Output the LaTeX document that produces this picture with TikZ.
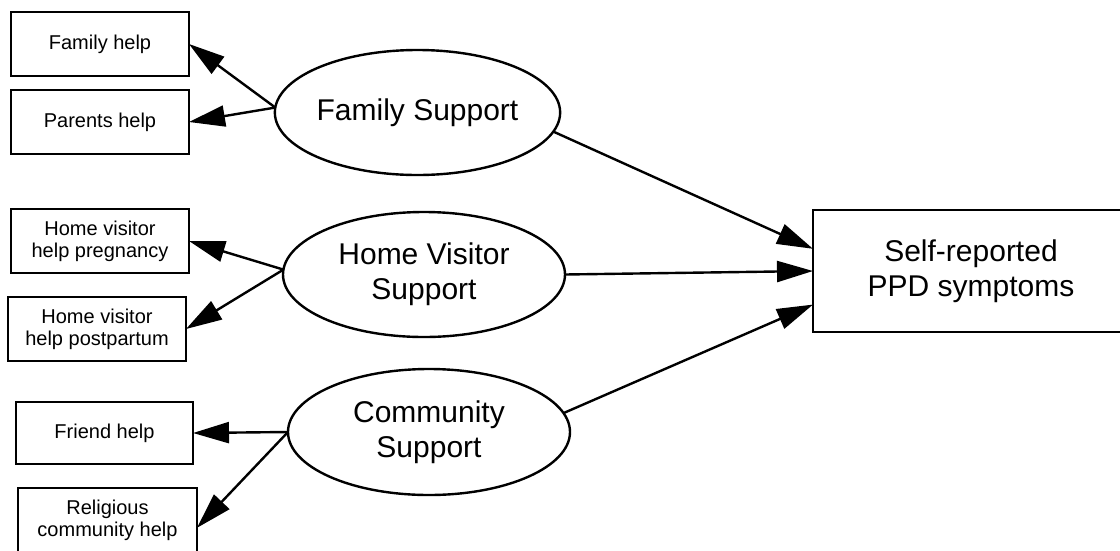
\documentclass[tikz,border=0pt]{standalone}
\usepackage{fontspec}
\setmainfont{Liberation Sans}
\usetikzlibrary{arrows.meta,shapes.geometric}
\tikzset{
  obs/.style={draw=black, line width=2.7pt, rectangle, inner sep=0pt, outer sep=0pt,
    minimum width=178pt, minimum height=64pt, align=center,
    font=\fontsize{20}{22}\selectfont},
  latent/.style={draw=black, line width=2.4pt, ellipse, inner sep=0pt, outer sep=0pt,
    minimum width=281pt, minimum height=125pt, align=center,
    font=\fontsize{30}{35}\selectfont},
  outc/.style={draw=black, line width=2.7pt, rectangle, inner sep=0pt, outer sep=0pt,
    minimum width=316pt, minimum height=122pt, align=center,
    font=\fontsize{30}{35}\selectfont},
  path/.style={draw=black, line width=2.4pt, -{Triangle[length=36pt,width=21pt]}}
}
\begin{document}
\begin{tikzpicture}[x=1pt,y=-1pt]
\fill[white] (0,0) rectangle (1120,550);
\useasboundingbox (0,0) rectangle (1120,550);
\clip (0,0) rectangle (1120,550);

% observed indicators
\node[obs] (famh) at (100,44) {Family help};
\node[obs] (parh) at (100,122) {Parents help};
\node[obs] (hvp) at (100,241) {Home visitor\\help pregnancy};
\node[obs] (hvpp) at (97,329) {Home visitor\\help postpartum};
\node[obs, minimum width=177pt, minimum height=62pt] (frh) at (104.5,433) {Friend help};
\node[obs, minimum width=179pt] (relh) at (107.5,520) {Religious\\community help};

% latent factors
\node[latent] (fs) at (417.5,112.5) {Family Support};
\node[latent, minimum width=282pt] (hv) at (424,274.5) {Home Visitor\\Support};
\node[latent, minimum width=282pt, minimum height=126pt] (cs) at (429,432) {Community\\Support};

% outcome
\node[outc] (ppd) at (971,271) {Self-reported\\PPD symptoms};

% measurement paths
\draw[path] (fs.178) -- (famh.east);
\draw[path] (fs.178) -- (parh.east);
\draw[path] (hv.178) -- (hvp.east);
\draw[path] (hv.178) -- (hvpp.east);
\draw[path] (cs.west) -- (frh.east);
\draw[path] (cs.west) -- (relh.-5);

% structural paths
\draw[path] (fs.-8.2) -- (ppd.172);
\draw[path] (hv.east) -- (ppd.west);
\draw[path] (cs.8) -- (ppd.-168);
\end{tikzpicture}
\end{document}
